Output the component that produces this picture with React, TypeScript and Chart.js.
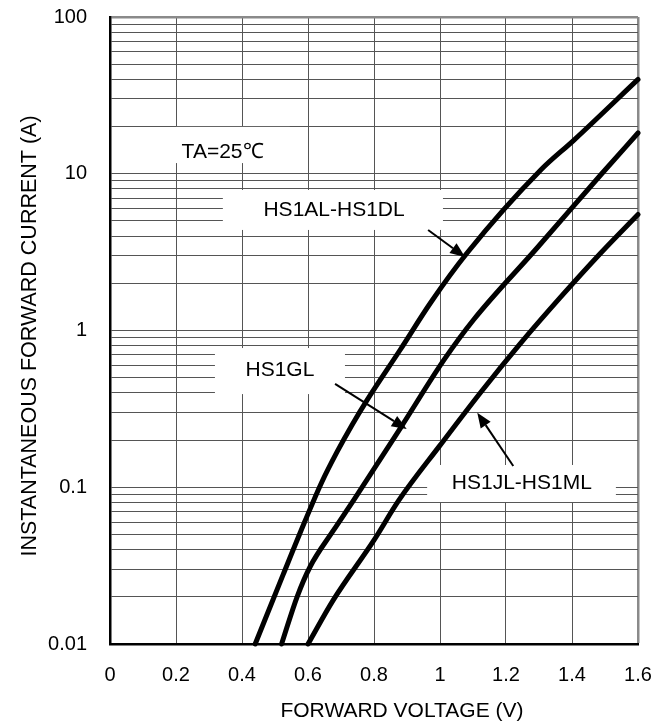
import React, { useEffect, useRef } from 'react';
import { Chart, registerables } from 'chart.js';

Chart.register(...registerables);

// ---- data ----
const xTickValues = [0, 0.2, 0.4, 0.6, 0.8, 1.0, 1.2, 1.4, 1.6];
const xTickLabels = ['0', '0.2', '0.4', '0.6', '0.8', '1', '1.2', '1.4', '1.6'];
const yDecades = [0.01, 0.1, 1, 10, 100];
const yTickLabels = ['0.01', '0.1', '1', '10', '100'];
const minorMultipliers = [1, 2, 3, 4, 5, 6, 7, 8, 9];

const xAxisTitle = 'FORWARD VOLTAGE (V)';
const yAxisTitle = 'INSTANTANEOUS FORWARD CURRENT (A)';

const seriesNames = ['HS1AL-HS1DL', 'HS1GL', 'HS1JL-HS1ML'];

const voltageA = [0.44, 0.524, 0.591, 0.642, 0.688, 0.733, 0.779, 0.879, 0.973, 1.082, 1.306, 1.406, 1.6];
const currentA = [0.01, 0.0275, 0.0609, 0.108, 0.168, 0.249, 0.36, 0.751, 1.52, 3.12, 10.6, 16.4, 40];

const voltageB = [0.52, 0.567, 0.606, 0.677, 0.739, 0.882, 1.012, 1.103, 1.294, 1.49, 1.6];
const currentB = [0.01, 0.02, 0.031, 0.053, 0.083, 0.242, 0.649, 1.18, 3.36, 10, 18.2];

const voltageC = [0.6, 0.676, 0.8, 0.876, 1.0, 1.126, 1.242, 1.364, 1.485, 1.6];
const currentC = [0.01, 0.019, 0.046, 0.083, 0.185, 0.41, 0.819, 1.62, 3.09, 5.5];

const annotationTexts = ['TA=25\u2103', 'HS1AL-HS1DL', 'HS1GL', 'HS1JL-HS1ML'];

const FONT = '"Liberation Sans", Arial, Helvetica, sans-serif';

// label boxes / arrows, in data units (voltage, current)
const labelBoxes = [
  { v0: 0.2, v1: 0.545, i0: 11.7, i1: 19.9, tv: 0.217, ti: 13.8, align: 'left' },
  { v0: 0.342, v1: 1.009, i0: 4.38, i1: 7.88, tv: 0.679, ti: 5.87, align: 'center' },
  { v0: 0.318, v1: 0.712, i0: 0.393, i1: 0.773, tv: 0.515, ti: 0.56, align: 'center' },
  { v0: 0.961, v1: 1.533, i0: 0.0805, i1: 0.1387, tv: 1.248, ti: 0.1064, align: 'center' },
];
const arrows = [
  { fv: 0.964, fi: 4.38, tv: 1.076, ti: 2.94 },
  { fv: 0.682, fi: 0.456, tv: 0.899, ti: 0.235 },
  { fv: 1.222, fi: 0.1367, tv: 1.113, ti: 0.299 },
];

const annotationPlugin = {
  id: 'datasheetAnnotations',
  beforeDatasetsDraw(chart: any) {
    const { ctx, scales } = chart;
    const x = scales.x, y = scales.y;
    ctx.save();
    ctx.fillStyle = '#ffffff';
    for (const b of labelBoxes) {
      const x0 = x.getPixelForValue(b.v0), x1 = x.getPixelForValue(b.v1);
      const y0 = y.getPixelForValue(b.i1), y1 = y.getPixelForValue(b.i0);
      ctx.fillRect(x0, y0, x1 - x0, y1 - y0);
    }
    ctx.restore();
  },
  afterDatasetsDraw(chart: any) {
    const { ctx, scales } = chart;
    const x = scales.x, y = scales.y;
    ctx.save();
    ctx.fillStyle = '#000';
    ctx.font = `21px ${FONT}`;
    ctx.textBaseline = 'middle';
    labelBoxes.forEach((b, k) => {
      ctx.textAlign = b.align as CanvasTextAlign;
      ctx.fillText(annotationTexts[k], x.getPixelForValue(b.tv), y.getPixelForValue(b.ti));
    });
    ctx.strokeStyle = '#000';
    ctx.lineWidth = 2;
    for (const a of arrows) {
      const x0 = x.getPixelForValue(a.fv), y0 = y.getPixelForValue(a.fi);
      const x1 = x.getPixelForValue(a.tv), y1 = y.getPixelForValue(a.ti);
      const ang = Math.atan2(y1 - y0, x1 - x0);
      const len = 15, hw = 6;
      const bx = x1 - len * Math.cos(ang), by = y1 - len * Math.sin(ang);
      ctx.beginPath();
      ctx.moveTo(x0, y0);
      ctx.lineTo(bx, by);
      ctx.stroke();
      ctx.beginPath();
      ctx.moveTo(x1, y1);
      ctx.lineTo(bx + hw * Math.sin(ang), by - hw * Math.cos(ang));
      ctx.lineTo(bx - hw * Math.sin(ang), by + hw * Math.cos(ang));
      ctx.closePath();
      ctx.fill();
    }
    ctx.restore();
  },
  afterDraw(chart: any) {
    const { ctx, chartArea } = chart;
    const w = chartArea.right - chartArea.left;
    ctx.save();
    ctx.fillStyle = '#000';
    ctx.textAlign = 'center';
    ctx.textBaseline = 'middle';
    ctx.font = `21px ${FONT}`;
    ctx.fillText(xAxisTitle, chartArea.left + w * 0.553, chartArea.bottom + 67);
    ctx.translate(chartArea.left - 80, (chartArea.top + chartArea.bottom) / 2 + 5.5);
    ctx.rotate(-Math.PI / 2);
    ctx.font = `21.5px ${FONT}`;
    ctx.fillText(yAxisTitle, 0, 0);
    ctx.restore();
  },
};

function toPoints(vs: number[], is: number[]) {
  return vs.map((v, k) => ({ x: v, y: is[k] }));
}

export default function App() {
  const canvasRef = useRef<HTMLCanvasElement | null>(null);

  useEffect(() => {
    const canvas = canvasRef.current;
    if (!canvas) return;
    const yTickValues: number[] = [];
    yDecades.forEach((d, k) => {
      if (k === yDecades.length - 1) yTickValues.push(d);
      else minorMultipliers.forEach((m) => yTickValues.push(+(d * m).toPrecision(6)));
    });
    const isDecade = (v: number) => yDecades.some((d) => Math.abs(d - v) < d * 1e-6);

    const lineStyle = {
      borderColor: '#000',
      backgroundColor: '#000',
      borderWidth: 5,
      pointRadius: 0,
      fill: false,
      cubicInterpolationMode: 'monotone' as const,
      borderCapStyle: 'round' as const,
      borderJoinStyle: 'round' as const,
      clip: 3,
    };

    const chart = new Chart(canvas, {
      type: 'line',
      data: {
        datasets: [
          { label: seriesNames[0], data: toPoints(voltageA, currentA), ...lineStyle },
          { label: seriesNames[1], data: toPoints(voltageB, currentB), ...lineStyle },
          { label: seriesNames[2], data: toPoints(voltageC, currentC), ...lineStyle },
        ],
      },
      options: {
        animation: false,
        responsive: false,
        devicePixelRatio: 1,
        layout: { padding: { top: 17, right: 30, left: 0, bottom: 0 } },
        plugins: { legend: { display: false }, tooltip: { enabled: false }, title: { display: false } },
        scales: {
          x: {
            type: 'linear',
            min: 0,
            max: 1.6,
            afterBuildTicks(s: any) {
              s.ticks = xTickValues.map((v) => ({ value: v }));
            },
            afterFit(s: any) {
              s.height = 83;
              s.paddingLeft = 0;
              s.paddingRight = 0;
            },
            ticks: {
              autoSkip: false,
              maxRotation: 0,
              padding: 19,
              color: '#000',
              font: { family: FONT, size: 20 },
              callback: (_v: any, i: number) => xTickLabels[i],
            },
            grid: {
              drawTicks: false,
              color: (c: any) => (c.tick && Math.abs(c.tick.value - 1.6) < 1e-6 ? '#8a8a8a' : '#555'),
              lineWidth: (c: any) => (c.tick && Math.abs(c.tick.value - 1.6) < 1e-6 ? 2.5 : 1),
            },
            border: { display: true, color: '#000', width: 2.5 },
            title: { display: false, text: xAxisTitle },
          },
          y: {
            type: 'logarithmic',
            min: 0.01,
            max: 100,
            afterBuildTicks(s: any) {
              s.ticks = yTickValues.map((v) => ({ value: v, major: isDecade(v) }));
            },
            afterFit(s: any) {
              s.width = 110;
              s.paddingTop = 0;
              s.paddingBottom = 0;
            },
            ticks: {
              autoSkip: false,
              padding: 23,
              color: '#000',
              font: { family: FONT, size: 20 },
              callback: (v: any) => {
                const idx = yDecades.findIndex((d) => Math.abs(d - v) < d * 1e-6);
                return idx >= 0 ? yTickLabels[idx] : '';
              },
            },
            grid: {
              drawTicks: false,
              color: (c: any) => (c.tick && Math.abs(c.tick.value - 100) < 1e-6 ? '#8a8a8a' : '#555'),
              lineWidth: (c: any) => (c.tick && Math.abs(c.tick.value - 100) < 1e-6 ? 2.5 : 1),
            },
            border: { display: true, color: '#000', width: 2.5 },
            title: { display: false, text: yAxisTitle },
          },
        },
      },
      plugins: [annotationPlugin],
    } as any);

    return () => chart.destroy();
  }, []);

  return (
    <div style={{ position: 'fixed', left: 0, top: 0, width: 668, height: 727, background: '#fff' }}>
      <canvas ref={canvasRef} width={668} height={727} style={{ width: 668, height: 727, display: 'block' }} />
    </div>
  );
}
